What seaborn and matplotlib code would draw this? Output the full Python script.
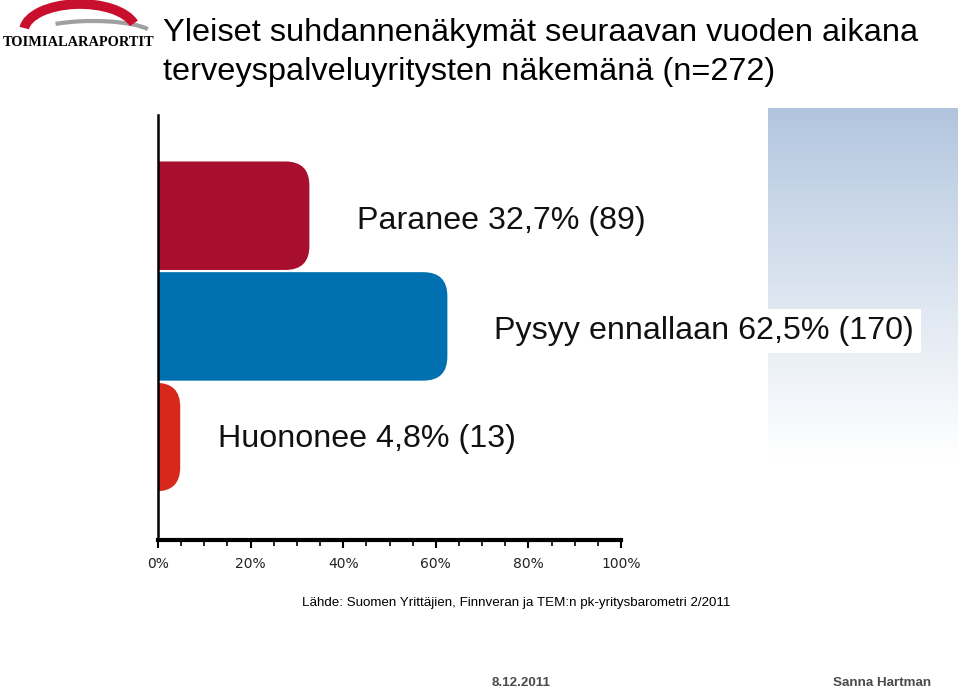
import numpy as np
import pandas as pd
import seaborn as sns
import matplotlib
matplotlib.use("Agg")
import matplotlib.pyplot as plt
from matplotlib.patches import FancyBboxPatch, Arc

# ---- data ----
categories = ["Paranee", "Pysyy ennallaan", "Huononee"]
percent = [32.7, 62.5, 4.8]
counts = [89, 170, 13]
pct_labels = ["32,7%", "62,5%", "4,8%"]
bar_colors = ["#A80F2E", "#0070B0", "#D8281C"]
tick_values = [0, 20, 40, 60, 80, 100]
tick_labels = ["0%", "20%", "40%", "60%", "80%", "100%"]
title_lines = ["Yleiset suhdannenäkymät seuraavan vuoden aikana",
               "terveyspalveluyritysten näkemänä (n=272)"]
source = "Lähde: Suomen Yrittäjien, Finnveran ja TEM:n pk-yritysbarometri 2/2011"
footer_date = "8.12.2011"
footer_author = "Sanna Hartman"

sns.set_theme(style="white")
plt.rcParams["font.family"] = ["Liberation Sans", "DejaVu Sans"]

W, H = 960, 690
fig = plt.figure(figsize=(W / 100, H / 100), dpi=100)
fig.patch.set_facecolor("white")

def fx(px):
    return px / W

def fy(py):
    return 1 - py / H

# gradient panel on the right
gax = fig.add_axes([fx(768), fy(460), fx(958) - fx(768), fy(108) - fy(460)])
grad = np.linspace(0, 1, 256).reshape(-1, 1)
top = np.array([0.69, 0.77, 0.87])
white = np.array([1.0, 1.0, 1.0])
t = np.clip(grad, 0, 1) ** 0.9
img = top[None, None, :] * (1 - t[:, :, None]) + white[None, None, :] * t[:, :, None]
gax.imshow(img, aspect="auto", extent=[0, 1, 0, 1], origin="upper")
gax.set_axis_off()

# main axes
ax = fig.add_axes([fx(158), fy(540), fx(621) - fx(158), fy(115) - fy(540)])
ax.set_facecolor("none")
df = pd.DataFrame({"cat": categories, "pct": percent})
sns.barplot(data=df, y="cat", x="pct", hue="cat", palette=bar_colors,
            orient="h", width=0.98, legend=False, ax=ax, saturation=1)

ax.set_xlim(0, 100)
ax.set_ylim(2.93, -0.91)

# rounded right ends
px_per_x = (621 - 158) / 100.0
px_per_y = (540 - 115) / (2.93 + 0.91)
r_px = 24
r_x = r_px / px_per_x
aspect = (r_px / px_per_y) / r_x
for p, col in zip(list(ax.patches), bar_colors):
    x0, y0, w, h = p.get_x(), p.get_y(), p.get_width(), p.get_height()
    p.remove()
    fb = FancyBboxPatch((x0 - 2 * r_x, y0), w + 2 * r_x, h,
                        boxstyle=f"round,pad=0,rounding_size={r_x}",
                        mutation_aspect=aspect, facecolor=col,
                        edgecolor="none", clip_on=True, zorder=2)
    ax.add_patch(fb)

ax.set_xticks(tick_values)
ax.set_xticklabels(tick_labels, family="DejaVu Sans", fontsize=10, color="#222222")
ax.set_xticks(np.arange(0, 101, 5), minor=True)
ax.tick_params(axis="x", which="major", direction="out", length=6, width=1.5,
               color="black", bottom=True, pad=6)
ax.tick_params(axis="x", which="minor", direction="out", length=4, width=1.2,
               color="black", bottom=True)
ax.set_yticks([])
ax.set_xlabel("")
ax.set_ylabel("")
for s in ["top", "right"]:
    ax.spines[s].set_visible(False)
ax.spines["bottom"].set_linewidth(3)
ax.spines["bottom"].set_color("black")
ax.spines["left"].set_linewidth(1.8)
ax.spines["left"].set_color("black")

# value labels
label_pos = [(43.0, 0.05), (72.5, 1.04), (12.9, 2.02)]
for i, (lx, ly) in enumerate(label_pos):
    txt = f"{categories[i]} {pct_labels[i]} ({counts[i]})"
    kw = {}
    if i == 1:
        kw["bbox"] = dict(boxstyle="square,pad=0.22", facecolor="white", edgecolor="none")
    ax.text(lx, ly, txt, fontsize=23.2, va="center", ha="left", color="#111111",
            clip_on=False, zorder=5, **kw)

# title
fig.text(fx(163), fy(33), title_lines[0], fontsize=23.4, va="center", ha="left", color="black")
fig.text(fx(163), fy(72), title_lines[1], fontsize=23.4, va="center", ha="left", color="black")

# source and footer
fig.text(fx(302), fy(603), source, fontsize=9.6, va="center", ha="left", color="black")
fig.text(fx(492), fy(683), footer_date, fontsize=9.6, fontweight="bold",
         va="center", ha="left", color="#4a4a4a")
fig.text(fx(931), fy(683), footer_author, fontsize=9.6, fontweight="bold",
         va="center", ha="right", color="#4a4a4a")

# logo
lax = fig.add_axes([0, fy(60), fx(160), fy(0) - fy(60)])
lax.set_xlim(0, 160)
lax.set_ylim(60, 0)
lax.set_axis_off()
lax.add_patch(Arc((93, 34), 118, 26, theta1=195, theta2=355, color="#a0a0a0", lw=3))
lax.add_patch(Arc((80, 31), 112, 54, theta1=183, theta2=352, color="#c8102e", lw=7))
lax.text(79, 43, "TOIMIALARAPORTIT", fontsize=10.4, fontweight="bold",
         family=["Liberation Serif", "DejaVu Serif"], ha="center", va="center", color="black")

fig.savefig("out.png", dpi=100, facecolor="white")
